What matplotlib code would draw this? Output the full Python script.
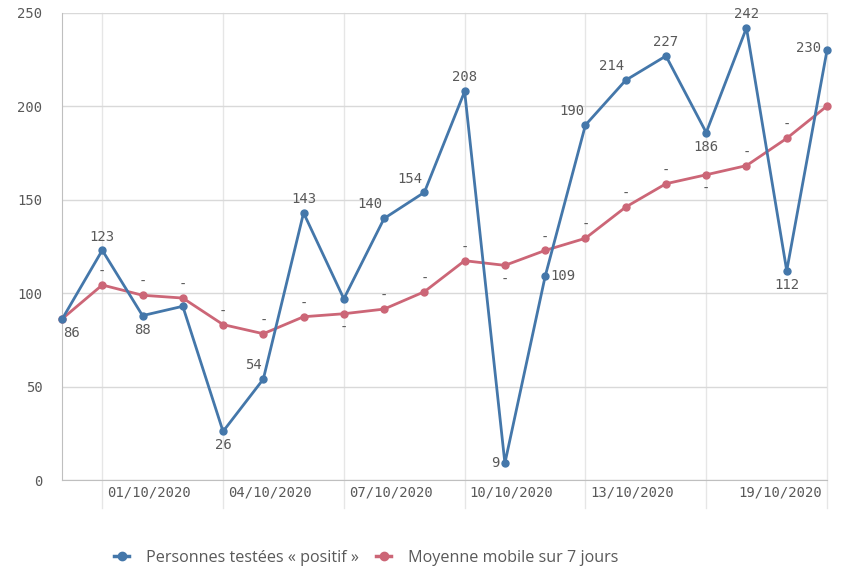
import matplotlib
matplotlib.use("Agg")
import matplotlib.pyplot as plt
from matplotlib.lines import Line2D
from matplotlib import transforms

dates = ["30/09/2020", "01/10/2020", "02/10/2020", "03/10/2020", "04/10/2020",
         "05/10/2020", "06/10/2020", "07/10/2020", "08/10/2020", "09/10/2020",
         "10/10/2020", "11/10/2020", "12/10/2020", "13/10/2020", "14/10/2020",
         "15/10/2020", "16/10/2020", "17/10/2020", "18/10/2020", "19/10/2020"]
positifs = [86, 123, 88, 93, 26, 54, 143, 97, 140, 154, 208, 9, 109, 190, 214,
            227, 186, 242, 112, 230]
moyenne = [86.2, 104.4, 98.9, 97.4, 83.2, 78.3, 87.4, 89.0, 91.5, 100.8, 117.4,
           114.9, 122.9, 129.4, 146.1, 158.6, 163.4, 168.3, 182.9, 200.2]
yticks = [0, 50, 100, 150, 200, 250]
xtick_idx = [1, 4, 7, 10, 13, 16]
xtick_labels = ["01/10/2020", "04/10/2020", "07/10/2020", "10/10/2020", "13/10/2020", ""]
end_label = "19/10/2020"

# label offsets in pixels (dx, dy) for blue series; None = hidden
blue_off = [(10, -14), (0, 13), (0, -14), None, (0, -14), (-10, 14), (0, 14), None,
            (-14, 14), (-14, 13), (0, 14), (-10, 0), (18, 0), (-14, 14), (-14, 14),
            (0, 14), (0, -14), (0, 14), (0, -14), (-18, 2)]
# red dash placement: 1 above, -1 below, 0 none
red_pos = [0, 1, 1, 1, 1, 1, 1, -1, 1, 1, 1, -1, 1, 1, 1, 1, -1, 1, 1, 0]

BLUE = "#4477aa"
RED = "#cc6677"
GRAY = "#595959"
GRID = "#d9d9d9"
MONO = "DejaVu Sans Mono"

fig = plt.figure(figsize=(8.46, 5.71), dpi=100)
W, H = 846, 571
ax = fig.add_axes([62 / W, 1 - 480 / H, (827 - 62) / W, (480 - 13) / H])

x = list(range(len(dates)))
ax.plot(x, positifs, color=BLUE, lw=2.0, marker="o", ms=5, zorder=4, clip_on=False)
ax.plot(x, moyenne, color=RED, lw=2.0, marker="o", ms=5, zorder=3, clip_on=False)

ax.set_xlim(0, len(dates) - 1)
ax.set_ylim(0, 250)
ax.set_yticks(yticks)
ax.set_yticklabels([str(v) for v in yticks], fontfamily=MONO, fontsize=10, color=GRAY)
ax.tick_params(axis="y", length=0, pad=14)
ax.grid(axis="y", color=GRID, lw=1)
ax.set_xticks(xtick_idx)
ax.set_xticklabels([])
ax.tick_params(axis="x", length=0)
for s in ["top", "right"]:
    ax.spines[s].set_visible(False)
ax.spines["left"].set_color("#bfbfbf")
ax.spines["bottom"].set_color("#bfbfbf")
ax.set_axisbelow(True)

# vertical grid lines extending below the axis
trans = transforms.blended_transform_factory(ax.transData, ax.transAxes)
ext = 28 / (480 - 13)
for i in xtick_idx + [len(dates) - 1]:
    ax.add_line(Line2D([i, i], [-ext, 1], transform=trans, color="#e6e6e6", lw=1,
                       clip_on=False, zorder=0))

px = 72 / 100
for i, lab in zip(xtick_idx, xtick_labels):
    if lab:
        ax.annotate(lab, xy=(i, 0), xycoords=trans, xytext=(5 * px, -12 * px),
                    textcoords="offset points", ha="left", va="center",
                    fontfamily=MONO, fontsize=10, color=GRAY)
ax.annotate(end_label, xy=(len(dates) - 1, 0), xycoords=trans,
            xytext=(-5 * px, -12 * px), textcoords="offset points", ha="right",
            va="center", fontfamily=MONO, fontsize=10, color=GRAY)

for i, (v, off) in enumerate(zip(positifs, blue_off)):
    if off is None:
        continue
    ax.annotate(str(v), xy=(i, v), xytext=(off[0] * px, off[1] * px),
                textcoords="offset points", ha="center", va="center",
                fontfamily=MONO, fontsize=10, color=GRAY, zorder=6,
                annotation_clip=False)

for i, (v, p) in enumerate(zip(moyenne, red_pos)):
    if p == 0:
        continue
    dy = 13 if p > 0 else -14
    ax.annotate("-", xy=(i, v), xytext=(0, dy * px), textcoords="offset points",
                ha="center", va="center", fontfamily=MONO, fontsize=10,
                color=GRAY, zorder=6)

handles = [Line2D([], [], color=BLUE, lw=2.5, marker="o", ms=6),
           Line2D([], [], color=RED, lw=2.5, marker="o", ms=6)]
leg = fig.legend(handles, ["Personnes testées « positif »", "Moyenne mobile sur 7 jours"],
                 loc="center", bbox_to_anchor=(366 / W, 1 - 558 / H), ncol=2,
                 frameon=False, handlelength=0.95, handletextpad=1.0, columnspacing=1.1,
                 prop={"family": "Open Sans", "size": 11.6})
for t in leg.get_texts():
    t.set_color(GRAY)

fig.savefig("out.png", dpi=100)
